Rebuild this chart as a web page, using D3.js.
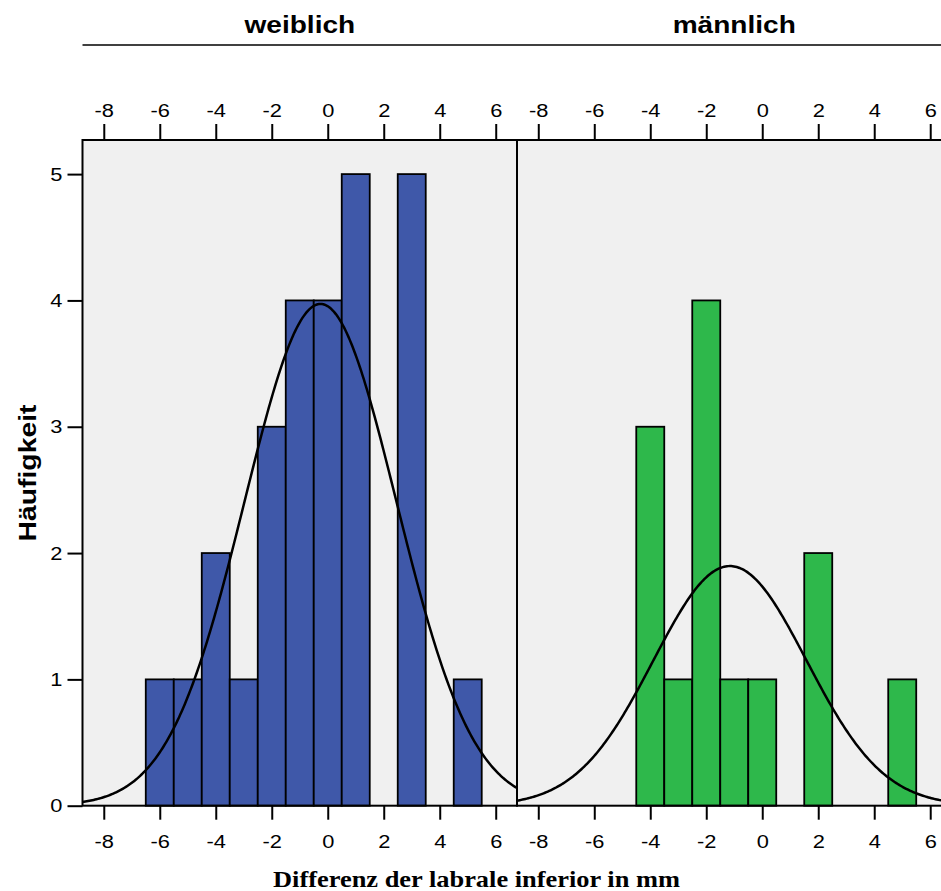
<!DOCTYPE html>
<html>
<head>
<meta charset="utf-8">
<script src="https://cdn.jsdelivr.net/npm/d3@7"></script>
<style>
  body { margin: 0; background: #fff; }
  svg { display: block; }
  .tick text { font-family: "Liberation Sans", Arial, sans-serif; font-size: 19px; fill: #000;
               transform-box: fill-box; transform-origin: center; transform: scaleX(1.15); }
  .tick line { stroke: #000; stroke-width: 2px; }
  .panel-title { font-family: "Liberation Sans", Arial, sans-serif; font-weight: bold; font-size: 24px;
                 transform-box: fill-box; transform-origin: center; transform: scaleX(1.17); }
</style>
</head>
<body>
<script>
// bins of 1 mm centred on integers
var binCenters = [-6, -5, -4, -3, -2, -1, 0, 1, 2, 3, 4, 5];
var countsWeiblich = [1, 1, 2, 1, 3, 4, 4, 5, 0, 5, 0, 1];
var countsMaennlich = [0, 0, 3, 1, 4, 1, 1, 0, 2, 0, 0, 1];
var panelNames = ["weiblich", "männlich"];
var panelColors = ["#3f58a9", "#2eb84b"];
var xTicks = [-8, -6, -4, -2, 0, 2, 4, 6];
var yTicks = [0, 1, 2, 3, 4, 5];
var xTitle = "Differenz der labrale inferior in mm";
var yTitle = "Häufigkeit";

var W = 941, H = 891;
var panelW = 434.5, topY = 140, bottomY = 805.7;
var panelX = [82.5, 517];

var svg = d3.select("body").append("svg").attr("width", W).attr("height", H);

var x = d3.scaleLinear().domain([-8.76, 6.76]).range([0, panelW]);
var y = d3.scaleLinear().domain([0, 5.27]).range([bottomY, topY]);
var fmt = d => String(d);

// strip title rule
svg.append("line").attr("x1", 82.5).attr("x2", W).attr("y1", 45).attr("y2", 45)
  .attr("stroke", "#000").attr("stroke-width", 1.5);

function normalCurve(counts) {
  var n = d3.sum(counts);
  var mean = d3.sum(counts, (c, i) => c * binCenters[i]) / n;
  var ss = d3.sum(counts, (c, i) => c * Math.pow(binCenters[i] - mean, 2));
  var sd = Math.sqrt(ss / (n - 1));
  return d3.range(-8.76, 6.77, 0.05).map(function (v) {
    return [v, n * Math.exp(-0.5 * Math.pow((v - mean) / sd, 2)) / (sd * Math.sqrt(2 * Math.PI))];
  });
}

[countsWeiblich, countsMaennlich].forEach(function (counts, p) {
  var g = svg.append("g").attr("transform", "translate(" + panelX[p] + ",0)");

  g.append("clipPath").attr("id", "clip" + p)
    .append("rect").attr("x", 0).attr("y", topY).attr("width", panelW).attr("height", bottomY - topY);

  g.append("rect").attr("x", 0).attr("y", topY).attr("width", panelW).attr("height", bottomY - topY)
    .attr("fill", "#f0f0f0");

  g.selectAll(".bar").data(binCenters.map((c, i) => ({c: c, n: counts[i]})).filter(d => d.n > 0))
    .enter().append("rect")
    .attr("x", d => x(d.c - 0.5))
    .attr("width", d => x(d.c + 0.5) - x(d.c - 0.5))
    .attr("y", d => y(d.n))
    .attr("height", d => y(0) - y(d.n))
    .attr("fill", panelColors[p])
    .attr("stroke", "#000").attr("stroke-width", 1.8);

  var line = d3.line().x(d => x(d[0])).y(d => y(d[1]));
  g.append("path").datum(normalCurve(counts))
    .attr("clip-path", "url(#clip" + p + ")")
    .attr("d", line).attr("fill", "none").attr("stroke", "#000").attr("stroke-width", 2.5);

  g.append("rect").attr("x", 0).attr("y", topY).attr("width", panelW).attr("height", bottomY - topY)
    .attr("fill", "none").attr("stroke", "#000").attr("stroke-width", 2);

  var ax = g.append("g").attr("transform", "translate(0," + topY + ")")
    .call(d3.axisTop(x).tickValues(xTicks).tickFormat(fmt).tickSize(16).tickPadding(7).tickSizeOuter(0));
  ax.select(".domain").remove();

  var bx = g.append("g").attr("transform", "translate(0," + bottomY + ")")
    .call(d3.axisBottom(x).tickValues(xTicks).tickFormat(fmt).tickSize(14).tickPadding(15).tickSizeOuter(0));
  bx.select(".domain").remove();

  g.append("text").attr("class", "panel-title")
    .attr("x", panelW / 2).attr("y", 33.5).attr("text-anchor", "middle")
    .text(panelNames[p]);
});

var ay = svg.append("g").attr("transform", "translate(" + panelX[0] + ",0)")
  .call(d3.axisLeft(y).tickValues(yTicks).tickFormat(fmt).tickSize(15).tickPadding(5).tickSizeOuter(0));
ay.select(".domain").remove();
ay.selectAll(".tick text").style("transform-origin", "right center");

svg.append("text")
  .attr("transform", "translate(36,473) rotate(-90)")
  .attr("text-anchor", "middle")
  .attr("textLength", 137).attr("lengthAdjust", "spacingAndGlyphs")
  .style("font-family", "'Liberation Sans', Arial, sans-serif")
  .style("font-weight", "bold").style("font-size", "24px")
  .text(yTitle);

svg.append("text")
  .attr("x", 476.5).attr("y", 886.7)
  .attr("text-anchor", "middle")
  .attr("textLength", 407).attr("lengthAdjust", "spacingAndGlyphs")
  .style("font-family", "'Liberation Serif', 'Times New Roman', serif")
  .style("font-weight", "bold").style("font-size", "23px")
  .text(xTitle);
</script>
</body>
</html>
